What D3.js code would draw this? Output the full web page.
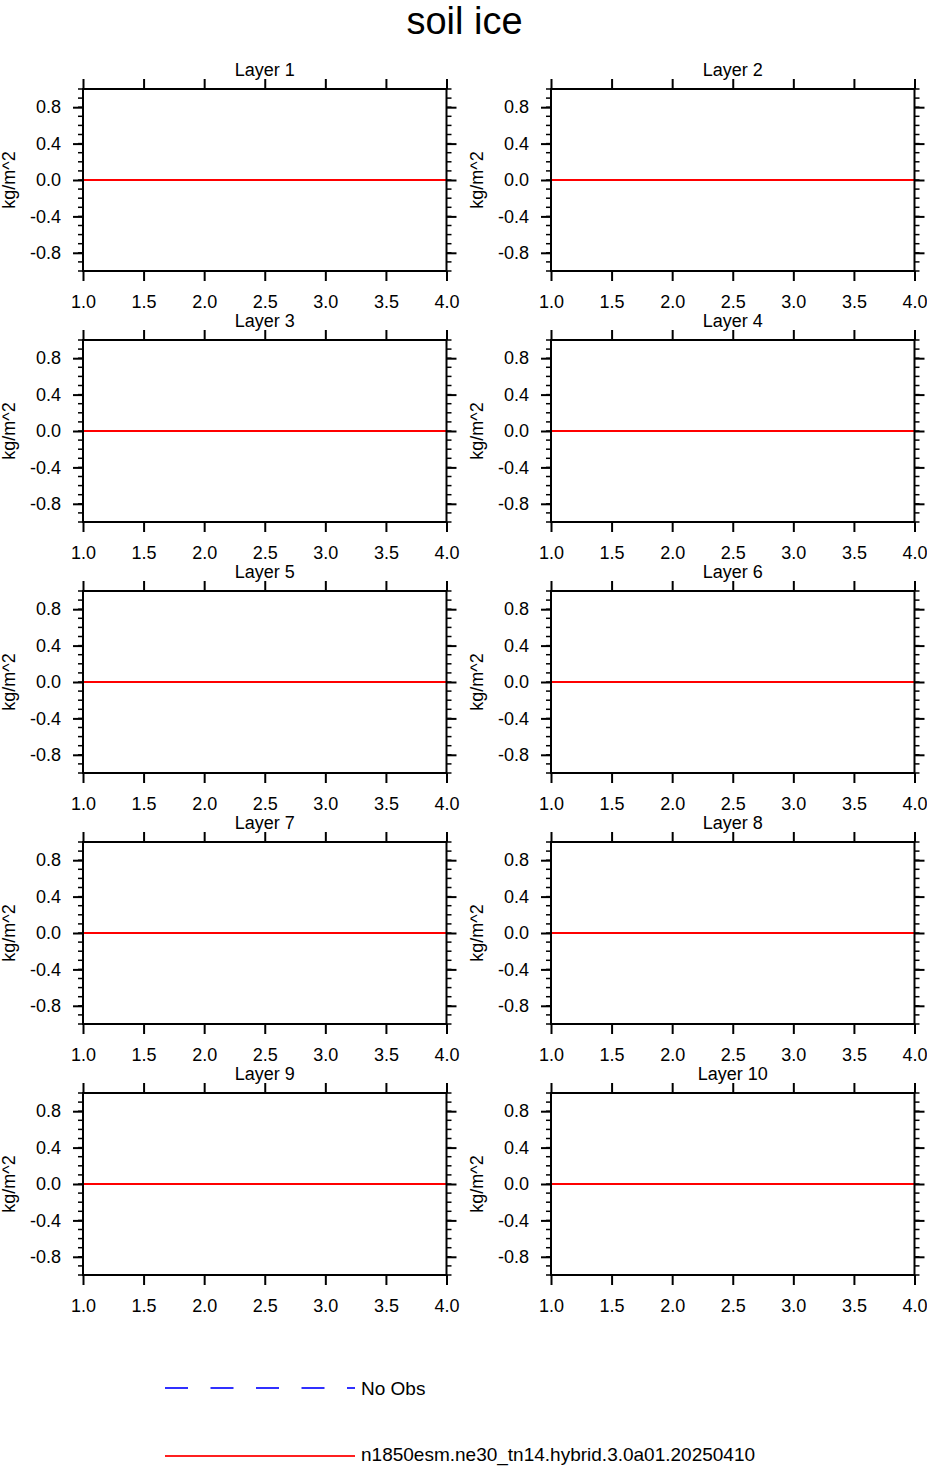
<!DOCTYPE html>
<html>
<head>
<meta charset="utf-8">
<script src="https://d3js.org/d3.v7.min.js"></script>
<style>
  body { margin: 0; background: #fff; }
  text { font-family: "Liberation Sans", Arial, Helvetica, sans-serif; fill: #000; }
</style>
</head>
<body>
<div id="grafico"></div>
<script>
// datos
const titulo = "soil ice";
const capas = ["Layer 1", "Layer 2", "Layer 3", "Layer 4", "Layer 5",
               "Layer 6", "Layer 7", "Layer 8", "Layer 9", "Layer 10"];
const xValores = [1, 2, 3, 4];
// modelo: cero en todas las capas
const modeloValores = [
  [0, 0, 0, 0], [0, 0, 0, 0], [0, 0, 0, 0], [0, 0, 0, 0], [0, 0, 0, 0],
  [0, 0, 0, 0], [0, 0, 0, 0], [0, 0, 0, 0], [0, 0, 0, 0], [0, 0, 0, 0]
];
const xTicks = [1.0, 1.5, 2.0, 2.5, 3.0, 3.5, 4.0];
const yTicks = [-0.8, -0.4, 0.0, 0.4, 0.8];
const yMenores = d3.range(-10, 11).map(d => d / 10);
const unidad = "kg/m^2";
const leyendaNombres = ["No Obs", "n1850esm.ne30_tn14.hybrid.3.0a01.20250410"];
const leyendaColores = ["#3030ff", "#ff2020"];

const ancho = 927, alto = 1466;
const panelAncho = 363.5, panelAlto = 182;
const colX = [83, 551];
const filaY0 = 89, filaPaso = 251;
const formato = d => d3.format(".1f")(d).replace("−", "-");

const svg = d3.select("#grafico").append("svg")
  .attr("width", ancho).attr("height", alto);

svg.append("text")
  .attr("x", ancho / 2 + 1).attr("y", 34)
  .attr("text-anchor", "middle")
  .style("font-size", "38px")
  .text(titulo);

const x = d3.scaleLinear().domain([1, 4]).range([0, panelAncho]);
const y = d3.scaleLinear().domain([-1, 1]).range([panelAlto, 0]);

capas.forEach((nombre, i) => {
  const px = colX[i % 2];
  const py = filaY0 + Math.floor(i / 2) * filaPaso;
  const g = svg.append("g").attr("transform", `translate(${px},${py})`);

  // ticks menores en y (izquierda y derecha)
  g.selectAll(".menorIzq").data(yMenores).join("line")
    .attr("x1", -5).attr("x2", 0)
    .attr("y1", d => y(d)).attr("y2", d => y(d))
    .attr("stroke", "#000").attr("stroke-width", 1.5);
  g.selectAll(".menorDer").data(yMenores).join("line")
    .attr("x1", panelAncho).attr("x2", panelAncho + 5)
    .attr("y1", d => y(d)).attr("y2", d => y(d))
    .attr("stroke", "#000").attr("stroke-width", 1.5);

  // ejes
  const ejes = [
    [d3.axisLeft(y).tickValues(yTicks).tickFormat(formato), 0, 0, 12],
    [d3.axisRight(y).tickValues(yTicks), panelAncho, 0, -1],
    [d3.axisTop(x).tickValues(xTicks), 0, 0, -1],
    [d3.axisBottom(x).tickValues(xTicks).tickFormat(formato), 0, panelAlto, 14]
  ];
  ejes.forEach(([eje, tx, ty, relleno]) => {
    const a = g.append("g").attr("transform", `translate(${tx},${ty})`)
      .call(eje.tickSizeInner(10).tickSizeOuter(0).tickPadding(Math.max(relleno, 0)));
    a.select(".domain").remove();
    a.selectAll(".tick line").attr("stroke", "#000").attr("stroke-width", 2);
    if (relleno < 0) a.selectAll(".tick text").remove();
    else a.selectAll(".tick text").style("font-size", "18px")
      .attr("font-family", null).attr("fill", "#000");
  });

  // línea del modelo
  const linea = d3.line().x((d, j) => x(xValores[j])).y(d => y(d));
  g.append("path").datum(modeloValores[i])
    .attr("d", linea)
    .attr("fill", "none").attr("stroke", "#ff0000").attr("stroke-width", 2.2);

  // marco
  g.append("rect").attr("width", panelAncho).attr("height", panelAlto)
    .attr("fill", "none").attr("stroke", "#000").attr("stroke-width", 2);

  g.append("text")
    .attr("x", panelAncho / 2).attr("y", -13)
    .attr("text-anchor", "middle")
    .style("font-size", "18px")
    .text(nombre);

  g.append("text")
    .attr("transform", `translate(${9 - px + (i % 2) * 468},${panelAlto / 2}) rotate(-90)`)
    .attr("text-anchor", "middle").attr("dy", "0.35em")
    .style("font-size", "18px")
    .text(unidad);
});

// leyenda
const leyY = [1388, 1456];
const leyBase = [1394.5, 1461];
leyendaNombres.forEach((nombre, k) => {
  svg.append("line")
    .attr("x1", 165).attr("x2", 355)
    .attr("y1", leyY[k]).attr("y2", leyY[k])
    .attr("stroke", leyendaColores[k]).attr("stroke-width", 1.8)
    .attr("stroke-dasharray", k === 0 ? "23,22.5" : null);
  svg.append("text")
    .attr("x", 361).attr("y", leyBase[k])
    .style("font-size", "19px")
    .text(nombre);
});
</script>
</body>
</html>
